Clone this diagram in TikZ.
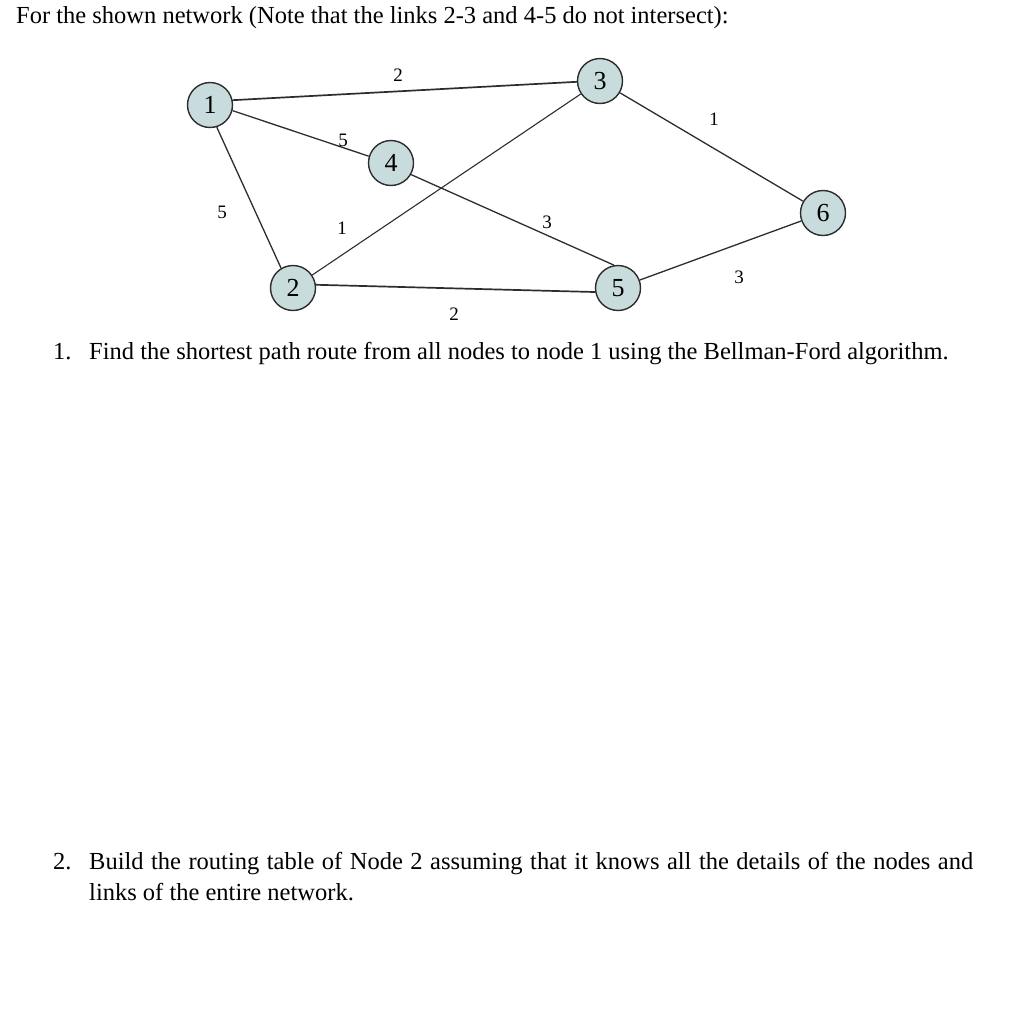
\documentclass[tikz,border=0pt]{standalone}
\usepackage{fontspec}
\setmainfont{Liberation Serif}
\usepackage{xcolor}
\usepackage{tikz}
\usetikzlibrary{positioning}
\definecolor{netFill}{RGB}{200,219,221}
\definecolor{netLine}{RGB}{45,45,45}

\begin{document}
\begin{tikzpicture}[
    x=1pt, y=-1pt,
    router/.style={circle, draw=netLine, line width=1.4pt, fill=netFill, minimum size=45pt, inner sep=0pt, font=\fontsize{26}{26}\selectfont},
    cost/.style={inner sep=0pt, font=\fontsize{19}{19}\selectfont},
    link/.style={draw=netLine, line width=1.3pt},
    txt/.style={anchor=base west, inner sep=0pt, font=\fontsize{24.5}{30}\selectfont}
]
\useasboundingbox (0,0) rectangle (1024,1009);
% heading
\node[txt] (head) at (16,23) {For the shown network (Note that the links 2-3 and 4-5 do not intersect):};
% network
\node[router] (n1) at (210,105) {1};
\node[router] (n3) at (600,81) {3};
\node[router] (n4) at (391,163) {4};
\node[router] (n2) at (293,288) {2};
\node[router] (n5) at (618,288) {5};
\node[router] (n6) at (823,213) {6};
\draw[link, line width=1.7pt] (n1.12) -- (n3.182);
\draw[link] (n1.-14) -- (n4.163);
\draw[link] (n1.-73) -- (n2.121);
\draw[link, line width=1.1pt] (n2) -- (n3);
\draw[link] (n4.-30) -- (n5.100);
\draw[link, line width=1.7pt] (n2.8) -- (n5.190);
\draw[link] (n3) -- (n6);
\draw[link] (n5) -- (n6);
% link costs
\node[cost] (c13) at (398,75) {2};
\node[cost] (c14) at (343,140) {5};
\node[cost] (c12) at (222,212) {5};
\node[cost] (c23) at (342,228) {1};
\node[cost] (c45) at (547,222) {3};
\node[cost] (c25) at (454,314) {2};
\node[cost] (c36) at (714,119) {1};
\node[cost] (c56) at (739,277) {3};
% questions
\node[txt] (q1num) at (53,359) {1.};
\node[txt] (q1) at (89,359) {Find the shortest path route from all nodes to node 1 using the Bellman-Ford algorithm.};
\node[txt] (q2num) at (53,869) {2.};
\node[txt] (q2) at (89,869) {\makebox[884pt][s]{Build the routing table of Node 2 assuming that it knows all the details of the nodes and}};
\node[txt] (q2b) at (89,900) {links of the entire network.};
\end{tikzpicture}
\end{document}
